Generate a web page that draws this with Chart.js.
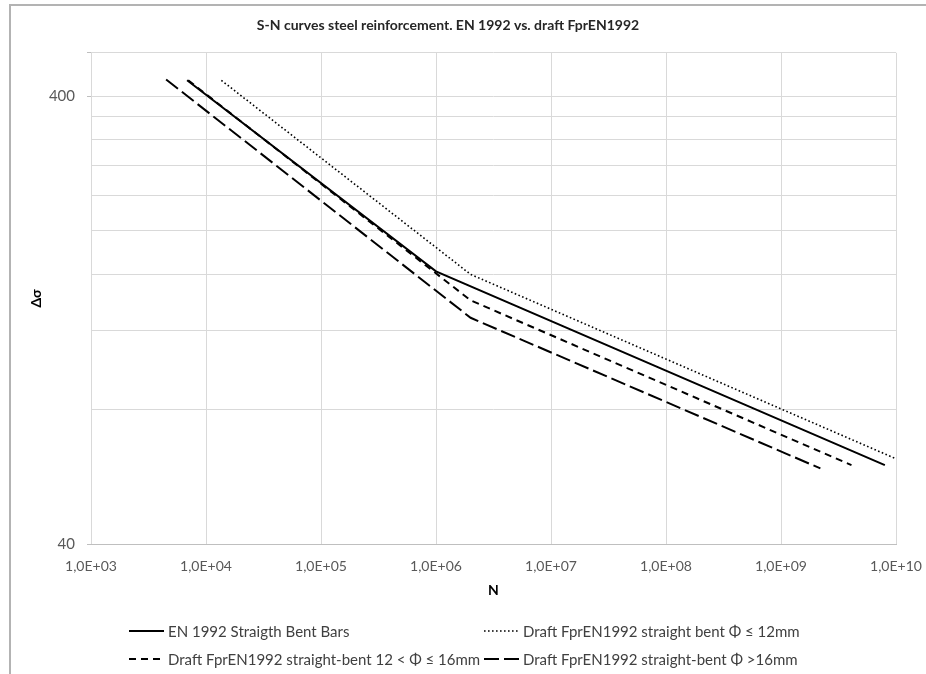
<!DOCTYPE html>
<html><head><meta charset="utf-8">
<script src="https://cdn.jsdelivr.net/npm/chart.js@4.4.0/dist/chart.umd.min.js"></script>
<style>
html,body{margin:0;padding:0;background:#fff;overflow:hidden;}
#wrap{position:relative;width:926px;height:674px;overflow:hidden;background:#fff;}
#cwrap{position:absolute;left:0;top:0;width:926px;height:674px;}
#frame{position:absolute;left:9px;top:4px;width:2000px;height:2000px;border-left:2px solid #b3b3b3;border-top:2px solid #b3b3b3;pointer-events:none;}
.item{position:absolute;height:20px;display:flex;align-items:center;font-family:Lato,sans-serif;font-size:15px;color:#404040;white-space:nowrap;}
.item svg{margin-right:4px;}
</style>
</head><body>
<div id="wrap">
  <div id="cwrap"><canvas id="c"></canvas></div>
  <div id="frame"></div>
  <div id="legend"></div>
</div>
<script>
// ---- data ----
const chartTitle = 'S-N curves steel reinforcement. EN 1992 vs. draft FprEN1992';
const seriesNames = [
  'EN 1992 Straigth Bent Bars',
  'Draft FprEN1992 straight bent Φ ≤ 12mm',
  'Draft FprEN1992 straight-bent 12 < Φ ≤ 16mm',
  'Draft FprEN1992 straight-bent Φ >16mm'
];
const en1992N = [6.85e3, 1e6, 8e9];
const en1992S = [434, 162.5, 60];
const draft12N = [1.36e4, 2e6, 1e10];
const draft12S = [434, 160, 62];
const draft16N = [7.0e3, 2e6, 4.1e9];
const draft16S = [434, 140, 60];
const draftOver16N = [4.5e3, 2e6, 2.2e9];
const draftOver16S = [436, 128, 59];
const xTicks = [1e3, 1e4, 1e5, 1e6, 1e7, 1e8, 1e9, 1e10];
const xTickLabels = ['1,0E+03','1,0E+04','1,0E+05','1,0E+06','1,0E+07','1,0E+08','1,0E+09','1,0E+10'];
const yGridValues = [40, 80, 120, 160, 200, 240, 280, 320, 360, 400, 500];
const yTickLabels = [40, 400];

// ---- styles ----
const lineStyles = [
  {width: 2, dash: []},
  {width: 1.6, dash: [1.6, 2.4]},
  {width: 2, dash: [7, 5]},
  {width: 2, dash: [15, 5]}
];
const seriesN = [en1992N, draft12N, draft16N, draftOver16N];
const seriesS = [en1992S, draft12S, draft16S, draftOver16S];

const datasets = seriesNames.map((name, i) => ({
  label: name,
  data: seriesN[i].map((n, j) => ({x: n, y: seriesS[i][j]})),
  showLine: true,
  borderColor: '#000',
  backgroundColor: '#000',
  borderWidth: lineStyles[i].width,
  borderDash: lineStyles[i].dash,
  pointRadius: 0,
  tension: 0,
  fill: false
}));

const fontFam = 'Lato, sans-serif';

new Chart(document.getElementById('c'), {
  type: 'scatter',
  data: {datasets},
  options: {
    responsive: true,
    maintainAspectRatio: false,
    animation: false,
    layout: {padding: {left: 0, right: 30, top: 0, bottom: 64}},
    plugins: {
      legend: {display: false},
      tooltip: {enabled: false},
      title: {
        display: true, text: chartTitle, color: '#262626',
        font: {family: fontFam, size: 14, weight: 'bold'},
        padding: {top: 17, bottom: 19}
      }
    },
    scales: {
      x: {
        type: 'logarithmic', position: 'bottom', min: 1e3, max: 1e10,
        afterBuildTicks: s => { s.ticks = xTicks.map(v => ({value: v})); },
        afterFit: s => { s.height = 66; s.paddingLeft = 0; s.paddingRight = 0; },
        ticks: {
          autoSkip: false, maxRotation: 0, minRotation: 0,
          callback: (v, i) => xTickLabels[i],
          color: '#595959', font: {family: fontFam, size: 14}, padding: 14
        },
        grid: {color: '#d9d9d9', drawTicks: false},
        border: {display: true, color: '#bfbfbf'},
        title: {
          display: true, text: 'N', color: '#000',
          font: {family: fontFam, size: 14, weight: 'bold'},
          padding: {top: 0, bottom: 11}
        }
      },
      y: {
        type: 'logarithmic', position: 'left', min: 40, max: 500,
        afterBuildTicks: s => { s.ticks = yGridValues.map(v => ({value: v})); },
        afterFit: s => { s.width = 91; },
        ticks: {
          autoSkip: false,
          callback: v => yTickLabels.includes(v) ? String(v) : '',
          color: '#595959', font: {family: fontFam, size: 15}, padding: 12
        },
        grid: {
          color: '#d9d9d9', tickLength: 4,
          tickColor: ctx => (ctx.tick && (yTickLabels.includes(ctx.tick.value) || ctx.tick.value === 500)) ? '#bfbfbf' : 'rgba(0,0,0,0)'
        },
        border: {display: false},
        title: {
          display: true, text: 'Δσ', color: '#000',
          font: {family: fontFam, size: 14, weight: 'bold'},
          padding: {top: 28, bottom: 0}
        }
      }
    }
  }
});

// ---- legend (HTML) ----
const legendPos = [
  {left: 129, top: 621},
  {left: 484, top: 621},
  {left: 129, top: 649},
  {left: 484, top: 649}
];
const lg = document.getElementById('legend');
seriesNames.forEach((name, i) => {
  const d = document.createElement('div');
  d.className = 'item';
  d.style.left = legendPos[i].left + 'px';
  d.style.top = legendPos[i].top + 'px';
  const st = lineStyles[i];
  const svg = '<svg width="35" height="6"><line x1="0" y1="3" x2="35" y2="3" stroke="#000" stroke-width="' + st.width +
    '" stroke-dasharray="' + (st.dash.length ? st.dash.join(',') : 'none') + '"/></svg>';
  d.innerHTML = svg;
  const t = document.createElement('span');
  t.textContent = name;
  d.appendChild(t);
  lg.appendChild(d);
});
</script>
</body></html>
